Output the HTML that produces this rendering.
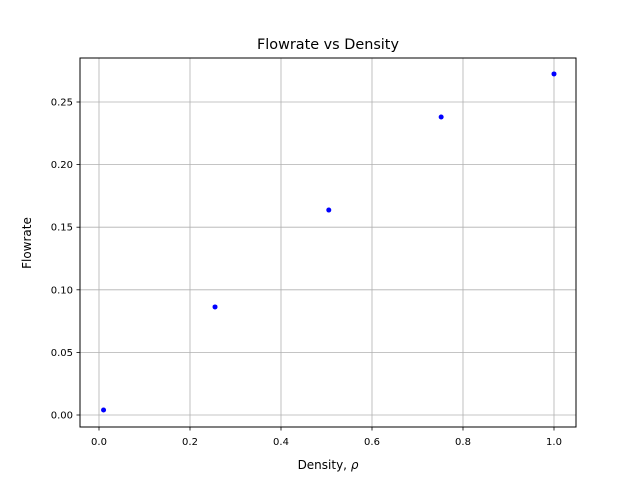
<!DOCTYPE html>
<html><head><meta charset="utf-8">
<style>
body{margin:0;background:#fff;}
svg{display:block;font-family:"DejaVu Sans","Liberation Sans",sans-serif;}
</style></head>
<body>
<svg id="chart" width="640" height="480">
<rect width="640" height="480" fill="#fff"/>
<g id="grid"></g>
<g id="ticks"></g>
<rect x="80" y="58" width="496" height="369" fill="none" stroke="#000" stroke-width="1"/>
<g id="points"></g>
<text x="328" y="49" text-anchor="middle" font-size="14.4">Flowrate vs Density</text>
<text x="328" y="469" text-anchor="middle" font-size="12">Density, <tspan font-style="italic">ρ</tspan></text>
<text transform="translate(31,243) rotate(-90)" text-anchor="middle" font-size="12">Flowrate</text>
</svg>
<script>
const densities=[0.01,0.255,0.505,0.752,1.0];
const flowrates=[0.004,0.0863,0.1637,0.238,0.2724];
const xTicks=[0.0,0.2,0.4,0.6,0.8,1.0];
const yTicks=[0.00,0.05,0.10,0.15,0.20,0.25];
const NS="http://www.w3.org/2000/svg";
function sx(v){return 99+v*455;}
function sy(v){return 415-v*1252;}
function mk(tag,attrs,parent){const e=document.createElementNS(NS,tag);for(const k in attrs)e.setAttribute(k,attrs[k]);parent.appendChild(e);return e;}
const grid=document.getElementById('grid'),ticks=document.getElementById('ticks'),pts=document.getElementById('points');
xTicks.forEach(t=>{const x=sx(t);
 const g=mk('line',{x1:x,x2:x,y1:58,y2:427,stroke:'#b0b0b0','stroke-width':0.8},grid);
 
 
 mk('line',{x1:x,x2:x,y1:427,y2:430.5,stroke:'#000','stroke-width':0.8},ticks);
 const l=mk('text',{x:x,y:445,'text-anchor':'middle','font-size':10},ticks);l.textContent=t.toFixed(1);
 
 
});
yTicks.forEach(t=>{const y=sy(t);
 const g=mk('line',{x1:80,x2:576,y1:y,y2:y,stroke:'#b0b0b0','stroke-width':0.8},grid);
 
 
 mk('line',{x1:76.5,x2:80,y1:y,y2:y,stroke:'#000','stroke-width':0.8},ticks);
 const l=mk('text',{x:73,y:y+3.5,'text-anchor':'end','font-size':10},ticks);l.textContent=t.toFixed(2);
 
 
});
densities.forEach((d,i)=>{
 const c=mk('circle',{cx:sx(d),cy:sy(flowrates[i]),r:2.5,fill:'#0000ff'},pts);
 
 
});
</script>
</body></html>
